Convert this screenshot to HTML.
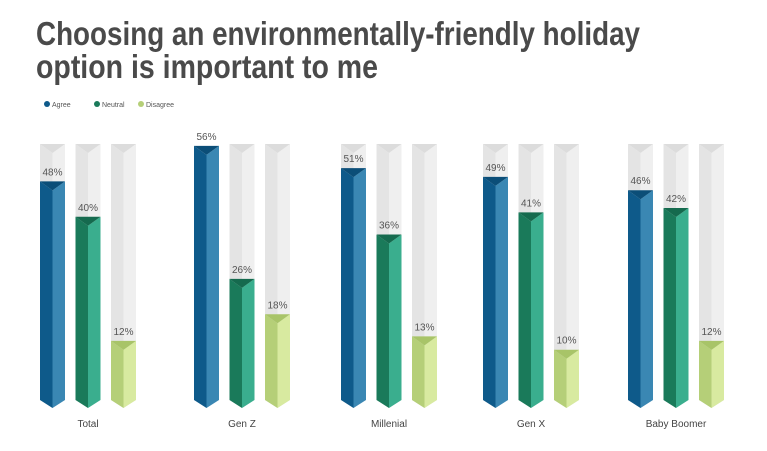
<!DOCTYPE html>
<html><head><meta charset="utf-8"><style>
body{margin:0;background:#fff;}
svg{display:block;font-family:"Liberation Sans",sans-serif;}
</style></head><body>
<svg id="chart" width="767" height="451">
<text x="36" y="45" font-size="33" font-weight="bold" fill="#4a4a4a" textLength="604" lengthAdjust="spacingAndGlyphs">Choosing an environmentally-friendly holiday</text>
<text x="36" y="78" font-size="33" font-weight="bold" fill="#4a4a4a" textLength="342" lengthAdjust="spacingAndGlyphs">option is important to me</text>
<g>
<circle cx="47" cy="104" r="3" fill="#0e5a8a"/>
<text x="52" y="107" font-size="7" fill="#555">Agree</text>
<circle cx="97" cy="104" r="3" fill="#1a7a5a"/>
<text x="102" y="107" font-size="7" fill="#555">Neutral</text>
<circle cx="141" cy="104" r="3" fill="#b5cf78"/>
<text x="146" y="107" font-size="7" fill="#555">Disagree</text>
</g>
<g id="bars"></g>
</svg>
<script>
const categories=["Total","Gen Z","Millenial","Gen X","Baby Boomer"];
const agree=[48,56,51,49,46];
const neutral=[40,26,36,41,42];
const disagree=[12,18,13,10,12];
const seriesNames=["agree","neutral","disagree"];
const NS="http://www.w3.org/2000/svg";
const colors=[["#0e5a8a","#3a87b3","#0b4e78"],["#1a7a5a","#3aae8e","#156a4e"],["#b5cf78","#d8eaa0","#a8c468"]];
const bg=["#e4e4e4","#efefef","#dcdcdc"];
const groupStart=[40,194,341,483,628];
const baseY=394, scale=4.43, bgTop=144, bottom=400, bw=25;
function yPos(v){return baseY-v*scale;}
function barX(i,s){return groupStart[i]+s*35.5;}
const g=document.getElementById("bars");
function poly(pts,fill,name){const p=document.createElementNS(NS,"polygon");p.setAttribute("points",pts.map(a=>a.join(",")).join(" "));p.setAttribute("fill",fill);


g.appendChild(p);return p;}
function bar(x,top,c,name){const m=x+bw/2;
poly([[x,top],[m,top+9],[m,bottom+8],[x,bottom]],c[0],name+"-left");
poly([[m,top+9],[x+bw,top],[x+bw,bottom],[m,bottom+8]],c[1],name+"-right");
poly([[x,top],[x+bw,top],[m,top+9]],c[2],name+"-top");}
const data=[agree,neutral,disagree];
categories.forEach((cat,i)=>{
 data.forEach((arr,s)=>{
  const x=barX(i,s);const v=arr[i];
  if(v<56) bar(x,bgTop,bg,"bar-bg-"+seriesNames[s]+"-"+i);
  const top=yPos(v);
  bar(x,top,colors[s],"bar-"+seriesNames[s]+"-"+i);
  const t=document.createElementNS(NS,"text");
  t.setAttribute("x",x+bw/2);t.setAttribute("y",top-6);t.setAttribute("text-anchor","middle");
  t.setAttribute("font-size","10");t.setAttribute("fill","#555");t.textContent=v+"%";
  
  
  g.appendChild(t);
 });
 const c=document.createElementNS(NS,"text");
 c.setAttribute("x",barX(i,1)+bw/2);c.setAttribute("y",427);c.setAttribute("text-anchor","middle");
 c.setAttribute("font-size","10");c.setAttribute("fill","#444");c.textContent=cat;
 
 
 g.appendChild(c);
});
</script>
</body></html>
